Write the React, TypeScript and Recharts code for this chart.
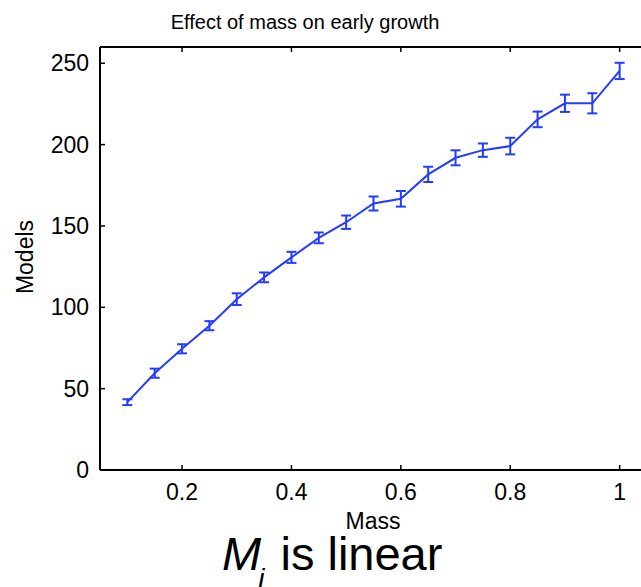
import React from "react";
import { LineChart, Line, XAxis, YAxis, ErrorBar } from "recharts";

const mass = [0.1, 0.15, 0.2, 0.25, 0.3, 0.35, 0.4, 0.45, 0.5, 0.55, 0.6, 0.65, 0.7, 0.75, 0.8, 0.85, 0.9, 0.95, 1.0];
const models = [41.7, 59.5, 74.5, 88.7, 105, 118.4, 130.7, 142.7, 152.3, 163.8, 166.7, 181.7, 191.9, 196.6, 199.1, 215.5, 225.4, 225.4, 245.3];
const modelsErr = [1.8, 2.8, 2.8, 2.8, 3.6, 3.0, 3.4, 3.3, 4.1, 4.3, 4.8, 4.7, 4.6, 4.1, 5.1, 4.8, 5.3, 6.2, 5.0];
const xTicks = [0.2, 0.4, 0.6, 0.8, 1];
const yTicks = [0, 50, 100, 150, 200, 250];

const data = mass.map((m, i) => ({ mass: m, models: models[i], err: modelsErr[i] }));

const FONT = '"Liberation Sans", Arial, sans-serif';
const BLUE = "#233cff";

function BottomTick(props: any) {
  const { x, y, payload } = props;
  return (
    <g>
      <line x1={x} x2={x} y1={y} y2={y - 5} stroke="#000" strokeWidth={1.5} />
      <text x={x} y={y + 30} textAnchor="middle" fontSize={23} fontFamily={FONT} fill="#000">
        {payload.value}
      </text>
    </g>
  );
}

function TopTick(props: any) {
  const { x, y } = props;
  return <line x1={x} x2={x} y1={y} y2={y + 5} stroke="#000" strokeWidth={1.5} />;
}

function LeftTick(props: any) {
  const { x, y, payload } = props;
  return (
    <g>
      <line x1={x} x2={x + 5} y1={y} y2={y} stroke="#000" strokeWidth={1.5} />
      <text x={x - 11} y={y + 8} textAnchor="end" fontSize={23} fontFamily={FONT} fill="#000">
        {payload.value}
      </text>
    </g>
  );
}

export default function App() {
  return (
    <div style={{ position: "fixed", left: 0, top: 0, width: 641, height: 587, overflow: "hidden", background: "#fff" }}>
      <LineChart width={680} height={587} data={data} margin={{ top: 37, right: 33, bottom: 0, left: 0 }}>
        <XAxis
          dataKey="mass"
          type="number"
          domain={[0.05, 1.05]}
          ticks={xTicks}
          allowDataOverflow
          height={117}
          tickSize={0}
          tickMargin={0}
          tick={<BottomTick />}
          axisLine={{ stroke: "#000", strokeWidth: 2 }}
          interval={0}
        />
        <XAxis
          xAxisId="top"
          orientation="top"
          dataKey="mass"
          type="number"
          domain={[0.05, 1.05]}
          ticks={xTicks}
          allowDataOverflow
          height={10}
          tickSize={0}
          tickMargin={0}
          tick={<TopTick />}
          axisLine={{ stroke: "#000", strokeWidth: 2 }}
          interval={0}
        />
        <YAxis
          type="number"
          domain={[0, 260]}
          ticks={yTicks}
          width={100}
          tickSize={0}
          tickMargin={0}
          tick={<LeftTick />}
          axisLine={{ stroke: "#000", strokeWidth: 2 }}
          interval={0}
        />
        <Line
          dataKey="models"
          type="linear"
          stroke={BLUE}
          strokeWidth={2}
          dot={false}
          isAnimationActive={false}
        >
          <ErrorBar dataKey="err" width={5} stroke={BLUE} strokeWidth={2} direction="y" isAnimationActive={false} />
        </Line>
      </LineChart>
      <svg width={641} height={587} style={{ position: "absolute", left: 0, top: 0, pointerEvents: "none" }}>
        <text x={305} y={29} textAnchor="middle" fontSize={20} fontFamily={FONT} fill="#000">
          Effect of mass on early growth
        </text>
        <text x={373} y={529} textAnchor="middle" fontSize={23} fontFamily={FONT} fill="#000">
          Mass
        </text>
        <text x={33} y={257} transform="rotate(-90 33 257)" textAnchor="middle" fontSize={23} fontFamily={FONT} fill="#000">
          Models
        </text>
        <text x={222} y={570} fontSize={47} fontFamily={FONT} fill="#000">
          <tspan fontStyle="italic">M</tspan>
          <tspan fontStyle="italic" fontSize={28} dx={-3} dy={18}>i</tspan>
          <tspan dx={3} dy={-18}> is linear</tspan>
        </text>
      </svg>
    </div>
  );
}
